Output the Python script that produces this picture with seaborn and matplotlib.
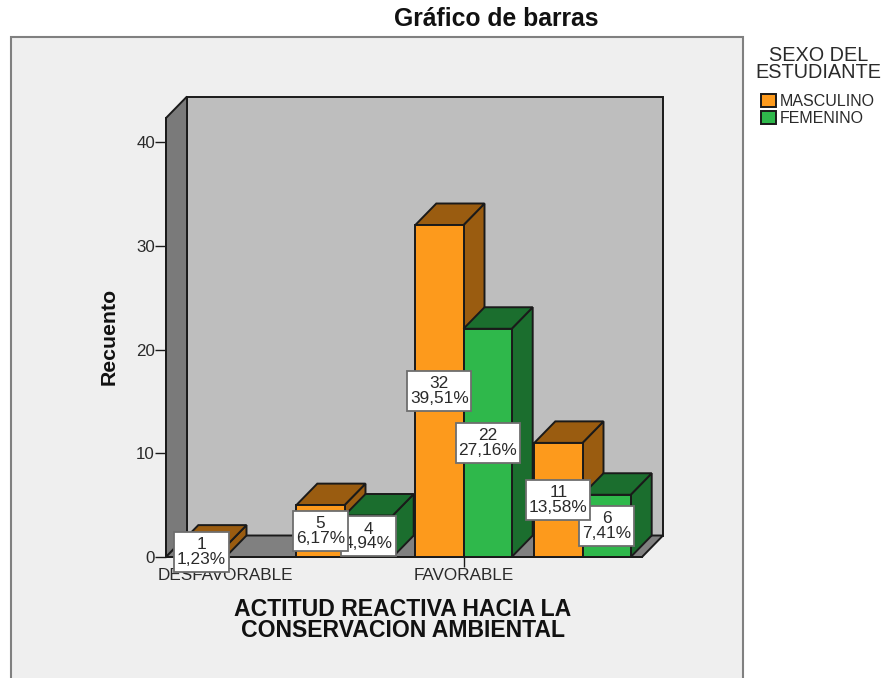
import matplotlib
matplotlib.use("Agg")
import matplotlib.pyplot as plt
from matplotlib.patches import Polygon, Rectangle
import pandas as pd
import seaborn as sns

# Data (the two blank categories have no printed label)
categories = ["DESFAVORABLE", "", "FAVORABLE", " "]
masculino = [1, 5, 32, 11]
femenino = [None, 4, 22, 6]
pct_masculino = ["1,23%", "6,17%", "39,51%", "13,58%"]
pct_femenino = ["", "4,94%", "27,16%", "7,41%"]
y_ticks = [0, 10, 20, 30, 40]

df = pd.concat([
    pd.DataFrame({"actitud": categories, "recuento": masculino, "sexo": "MASCULINO"}),
    pd.DataFrame({"actitud": categories, "recuento": femenino, "sexo": "FEMENINO"}),
], ignore_index=True)
df["recuento"] = df["recuento"].astype(float)

# Colors
front_colors = {"MASCULINO": "#FD9A1C", "FEMENINO": "#2FB84B"}
side_colors = {"MASCULINO": "#9A5C10", "FEMENINO": "#1B6E2E"}
edge = "#1A1A1A"
text_color = "#2A2A2A"
W, H = 883, 678

sns.set_theme(style="ticks")
plt.rcParams["font.family"] = ["Liberation Sans", "DejaVu Sans"]

fig = plt.figure(figsize=(W / 100, H / 100), dpi=100, facecolor="white")

# Grey panel behind the chart, running off the bottom of the image
fig.add_artist(Rectangle((11 / W, -0.05), 732 / W, 0.05 + (H - 37) / H, transform=fig.transFigure,
                         facecolor="#EFEFEF", edgecolor="#808080", linewidth=1.5, zorder=-1))

ax = fig.add_axes([166 / W, (H - 557) / H, 476 / W, 439 / H])
ax.patch.set_visible(False)

sns.barplot(data=df, x="actitud", y="recuento", hue="sexo", order=categories,
            hue_order=["MASCULINO", "FEMENINO"], palette=front_colors, saturation=1,
            width=0.81, gap=0, edgecolor=edge, linewidth=1.4, ax=ax)

ax.set_xlim(-0.5, 3.5)
ax.set_ylim(0, 439 / 10.375)

# Depth of the fake 3D box, in data units
px_x = 1 / 119
px_y = 1 / 10.375
dx = 21 * px_x
dy = 21.5 * px_y
x0, x1 = ax.get_xlim()
y0, y1 = ax.get_ylim()

walls = [
    ([(x0 + dx, y0 + dy), (x1 + dx, y0 + dy), (x1 + dx, y1 + dy), (x0 + dx, y1 + dy)], "#BEBEBE"),
    ([(x0, y0), (x0 + dx, y0 + dy), (x0 + dx, y1 + dy), (x0, y1)], "#7A7A7A"),
    ([(x0, y0), (x1, y0), (x1 + dx, y0 + dy), (x0 + dx, y0 + dy)], "#808080"),
]
for pts, color in walls:
    ax.add_patch(Polygon(pts, closed=True, facecolor=color, edgecolor=edge, linewidth=1.4,
                         clip_on=False, zorder=1))

# Side and top faces for every bar, back to front
series = [("MASCULINO", ax.containers[0], pct_masculino), ("FEMENINO", ax.containers[1], pct_femenino)]
bars = []
for sexo, container, pcts in series:
    for bar in container:
        if bar.get_height() > 0:
            bars.append((round(bar.get_x() + bar.get_width() / 2), sexo, bar, pcts))
bars.sort(key=lambda b: (b[0], b[1] == "FEMENINO"))

z = 3
for cat, sexo, bar, pcts in bars:
    left, w, h = bar.get_x(), bar.get_width(), bar.get_height()
    side = [(left + w, 0), (left + w + dx, dy), (left + w + dx, h + dy), (left + w, h)]
    top = [(left, h), (left + w, h), (left + w + dx, h + dy), (left + dx, h + dy)]
    for pts in (side, top):
        ax.add_patch(Polygon(pts, closed=True, facecolor=side_colors[sexo], edgecolor=edge,
                             linewidth=1.4, clip_on=False, zorder=z))
    bar.set_zorder(z + 0.5)
    bar.set_clip_on(False)
    z += 1

# White count labels, the femenino ones first so the masculino boxes cover them
bars.sort(key=lambda b: b[1] == "MASCULINO")
for cat, sexo, bar, pcts in bars:
    h = bar.get_height()
    cx = bar.get_x() + bar.get_width() / 2
    box_w = (len(pcts[cat]) * 9 + 10) * px_x
    box_h = 40 * px_y
    ax.add_patch(Rectangle((cx - box_w / 2, h / 2 - box_h / 2), box_w, box_h, facecolor="white",
                           edgecolor="#6E6E6E", linewidth=1.3, clip_on=False, zorder=z))
    ax.text(cx, h / 2, f"{h:.0f}\n{pcts[cat]}", ha="center", va="center", fontsize=12.4,
            color=text_color, linespacing=0.95, clip_on=False, zorder=z + 0.5)
    z += 1

# Axes
sns.despine(ax=ax)
for s in ("left", "bottom"):
    ax.spines[s].set_color(edge)
    ax.spines[s].set_linewidth(1.4)
tick_pos = [i for i, c in enumerate(categories) if c.strip()]
ax.set_xticks(tick_pos, [categories[i] for i in tick_pos])
ax.set_yticks(y_ticks)
ax.tick_params(axis="y", length=8, width=1, color=edge, labelsize=12.2, labelcolor=text_color, pad=0)
ax.tick_params(axis="x", length=7, width=1, color=edge, labelsize=12.3, labelcolor=text_color, pad=1)

fig.text(496 / W, 1 - 19 / H, "Gráfico de barras", ha="center", va="center",
         fontsize=17.8, fontweight="bold", color="#111111")
fig.text(109 / W, 1 - 336 / H, "Recuento", ha="center", va="center", rotation=90,
         fontsize=15.3, fontweight="bold", color="#111111")
fig.text(403 / W, 1 - 620 / H, "ACTITUD REACTIVA HACIA LA\nCONSERVACION AMBIENTAL", ha="center", va="center",
         fontsize=16.6, fontweight="bold", color="#111111", linespacing=0.92)

# Legend
fig.text(818.5 / W, 1 - 64 / H, "SEXO DEL\nESTUDIANTE", ha="center", va="center", multialignment="center",
         fontsize=14.3, color=text_color, linespacing=0.9)
handles, labels = ax.get_legend_handles_labels()
ax.legend(handles, labels, loc="upper left", bbox_to_anchor=(761 / W, 1 - 94 / H),
          bbox_transform=fig.transFigure, frameon=False, fontsize=11.5, borderpad=0, borderaxespad=0,
          handlelength=0.94, handleheight=0.88, handletextpad=0.25, labelspacing=0.15, labelcolor=text_color)

ax.set_xlabel("")
ax.set_ylabel("")

fig.savefig("out.png", dpi=100)
